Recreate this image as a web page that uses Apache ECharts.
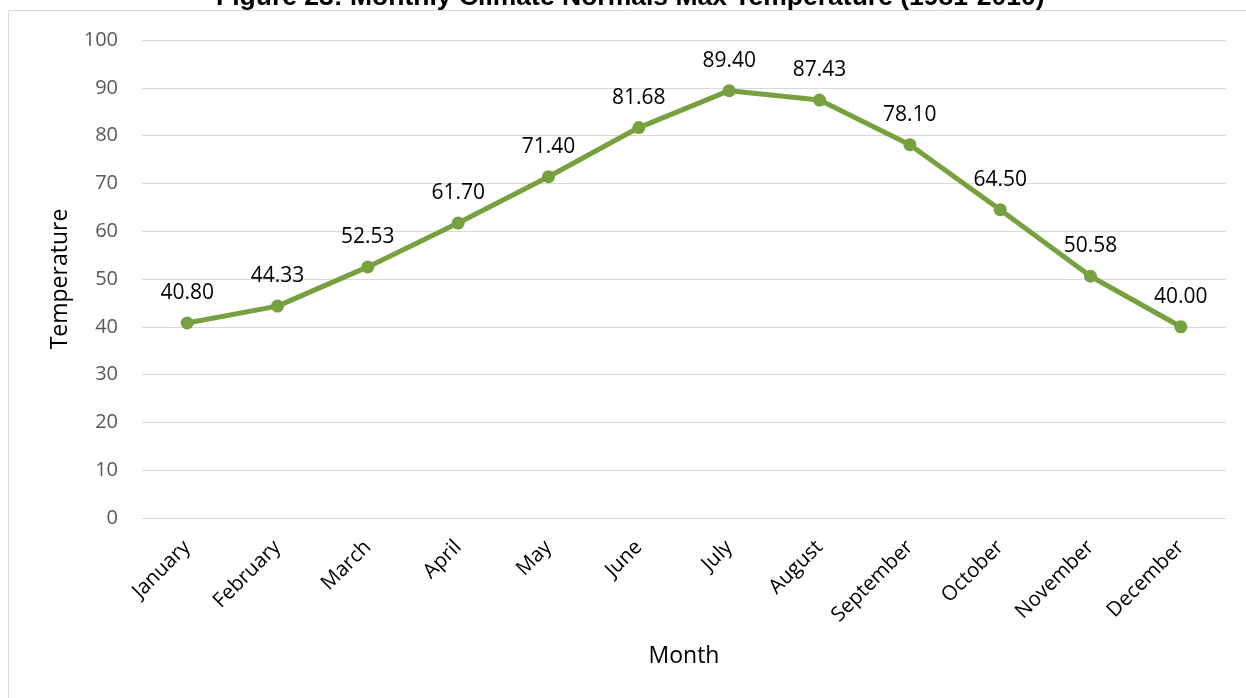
<!DOCTYPE html>
<html>
<head>
<meta charset="utf-8">
<script src="https://cdn.jsdelivr.net/npm/echarts@6/dist/echarts.min.js"></script>
<style>
  html, body { margin: 0; padding: 0; background: #ffffff; }
  #chart { width: 1246px; height: 698px; }
</style>
</head>
<body>
<div id="chart"></div>
<script>
// Monthly climate normals, max temperature (1981-2010)
const months = ['January', 'February', 'March', 'April', 'May', 'June',
                'July', 'August', 'September', 'October', 'November', 'December'];
const maxTemps = [40.80, 44.33, 52.53, 61.70, 71.40, 81.68, 89.40, 87.43, 78.10, 64.50, 50.58, 40.00];
const titleText = 'Figure 23: Monthly Climate Normals Max Temperature (1981-2010)';
const yMin = 0, yMax = 100, yStep = 10;

const chart = echarts.init(document.getElementById('chart'), null, { renderer: 'canvas' });

const bodyFont = '"Open Sans", "Noto Sans", sans-serif';

chart.setOption({
  animation: false,
  backgroundColor: '#ffffff',
  graphic: [
    {
      type: 'rect',
      shape: { x: 8.5, y: 10.5, width: 1260, height: 720 },
      style: { fill: 'none', stroke: '#d9d9d9', lineWidth: 1 },
      z: -1
    },
    {
      type: 'text',
      left: 216,
      top: -16,
      style: {
        text: titleText,
        font: 'bold 26.5px "Liberation Sans", Arial, sans-serif',
        fill: '#000000'
      }
    }
  ],
  grid: { left: 142, right: 20, top: 40, bottom: 180, containLabel: false },
  xAxis: {
    type: 'category',
    data: months,
    boundaryGap: true,
    name: 'Month',
    nameLocation: 'middle',
    nameGap: 127,
    nameTextStyle: { color: '#000000', fontSize: 23, fontFamily: bodyFont },
    axisLine: { show: true, lineStyle: { color: '#d9d9d9', width: 1 } },
    axisTick: { show: false },
    axisLabel: {
      rotate: 45,
      margin: 26,
      color: '#000000',
      fontSize: 20.5,
      fontFamily: bodyFont,
      interval: 0
    }
  },
  yAxis: {
    type: 'value',
    min: yMin,
    max: yMax,
    interval: yStep,
    name: 'Temperature',
    nameLocation: 'middle',
    nameGap: 70,
    nameTextStyle: { color: '#000000', fontSize: 23, fontFamily: bodyFont },
    axisLine: { show: false },
    axisTick: { show: false },
    axisLabel: { color: '#595959', fontSize: 20, fontFamily: bodyFont, margin: 24 },
    splitLine: { show: true, lineStyle: { color: '#d9d9d9', width: 1 } }
  },
  series: [{
    type: 'line',
    data: maxTemps,
    symbol: 'circle',
    symbolSize: 13,
    lineStyle: { color: '#77a03f', width: 5 },
    itemStyle: { color: '#77a03f' },
    label: {
      show: true,
      position: 'top',
      distance: 13,
      color: '#000000',
      fontSize: 21,
      fontFamily: bodyFont,
      formatter: p => p.value.toFixed(2)
    }
  }]
});
</script>
</body>
</html>
